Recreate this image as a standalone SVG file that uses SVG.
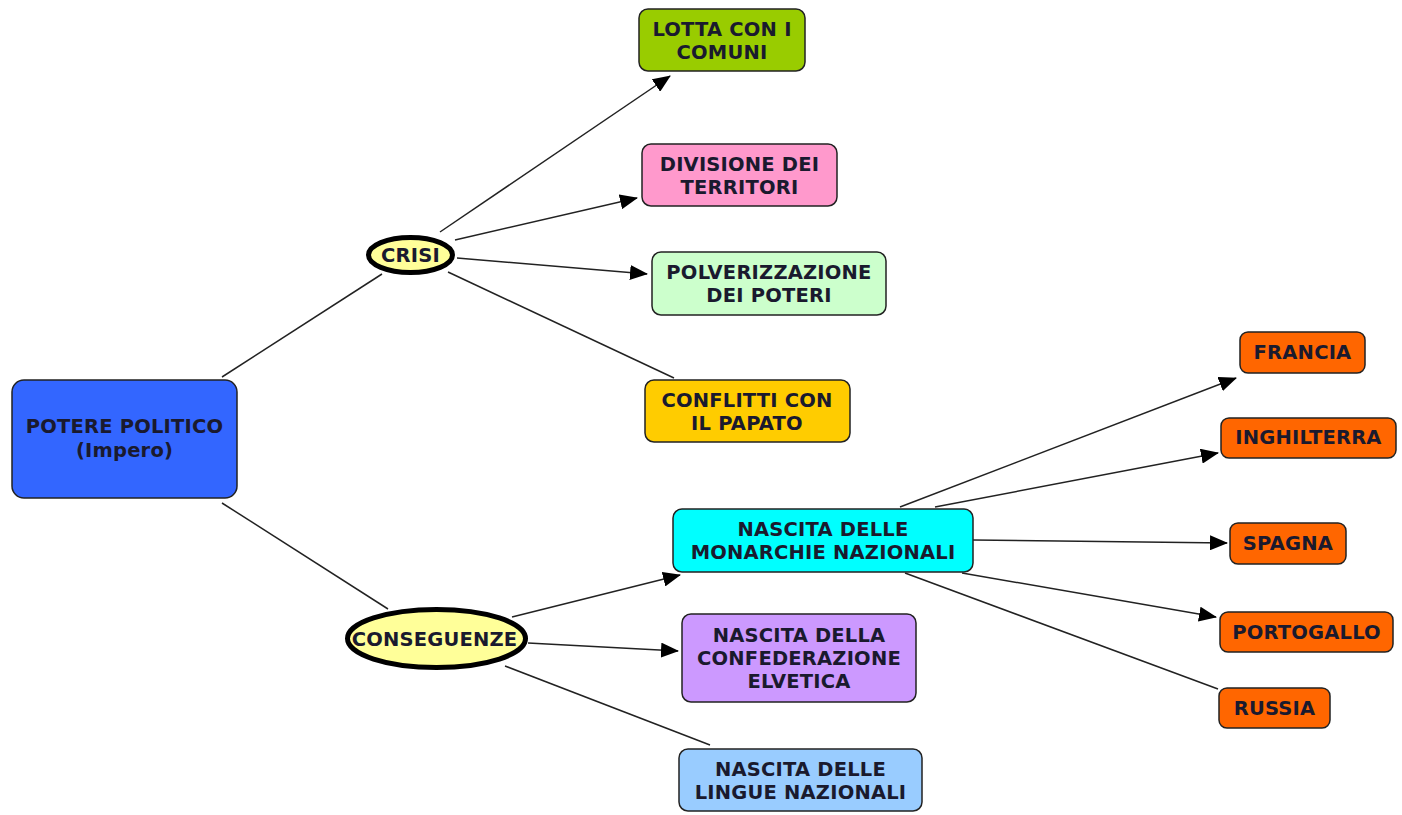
<svg xmlns="http://www.w3.org/2000/svg" width="1402" height="815" viewBox="0 0 1402 815">
<defs>
<marker id="arr" markerWidth="18" markerHeight="15" refX="17" refY="7.5" orient="auto" markerUnits="userSpaceOnUse">
<path d="M0,0 L18,7.5 L0,15 Z" fill="#000"/>
</marker>
<style>
.box{stroke:#222;stroke-width:1.5}
.ell{fill:#ffff99;stroke:#000;stroke-width:5}
text{font-family:"DejaVu Sans",Verdana,sans-serif;font-weight:bold;font-size:19.5px;letter-spacing:0.2px;fill:#1a1a2e;text-anchor:middle}
.c{stroke:#222;stroke-width:1.5;fill:none}
.a{marker-end:url(#arr)}
</style>
</defs>
<rect width="1402" height="815" fill="#fff"/>
<g id="connectors">
<line class="c" x1="222" y1="377" x2="382" y2="274"/>
<line class="c" x1="222" y1="503" x2="388" y2="609"/>
<line class="c a" x1="440" y1="232" x2="670" y2="76"/>
<line class="c a" x1="455" y1="240" x2="637" y2="198"/>
<line class="c a" x1="457" y1="258" x2="647" y2="274"/>
<line class="c" x1="448" y1="272" x2="674" y2="378"/>
<line class="c a" x1="512" y1="617" x2="680" y2="575"/>
<line class="c a" x1="528" y1="643" x2="678" y2="651"/>
<line class="c" x1="505" y1="666" x2="710" y2="745"/>
<line class="c a" x1="900" y1="507" x2="1236" y2="378"/>
<line class="c a" x1="935" y1="507" x2="1218" y2="453"/>
<line class="c a" x1="973" y1="540" x2="1227" y2="543"/>
<line class="c a" x1="962" y1="573" x2="1216" y2="617"/>
<line class="c" x1="905" y1="573" x2="1218" y2="689"/>
</g>
<g id="potere">
<rect class="box" x="12" y="380" width="225" height="118" rx="12" fill="#3366ff"/>
<text x="124.5" y="433">POTERE POLITICO</text>
<text x="124.5" y="457">(Impero)</text>
</g>
<g id="crisi">
<ellipse class="ell" cx="410.5" cy="255" rx="42" ry="17.5"/>
<text x="410.5" y="262">CRISI</text>
</g>
<g id="conseguenze">
<ellipse class="ell" cx="436.5" cy="638.5" rx="89" ry="29"/>
<text x="434.5" y="646">CONSEGUENZE</text>
</g>
<g id="lotta">
<rect class="box" x="639" y="9" width="166" height="62" rx="9" fill="#99cc00"/>
<text x="722" y="36">LOTTA CON I</text>
<text x="722" y="59">COMUNI</text>
</g>
<g id="divisione">
<rect class="box" x="642" y="144" width="195" height="62" rx="9" fill="#ff99cc"/>
<text x="739.5" y="171">DIVISIONE DEI</text>
<text x="739.5" y="194">TERRITORI</text>
</g>
<g id="polverizzazione">
<rect class="box" x="652" y="252" width="234" height="63" rx="9" fill="#ccffcc"/>
<text x="769" y="279">POLVERIZZAZIONE</text>
<text x="769" y="302">DEI POTERI</text>
</g>
<g id="conflitti">
<rect class="box" x="645" y="380" width="205" height="62" rx="9" fill="#ffcc00"/>
<text x="747" y="407">CONFLITTI CON</text>
<text x="747" y="430">IL PAPATO</text>
</g>
<g id="monarchie">
<rect class="box" x="673" y="509" width="300" height="63" rx="9" fill="#00ffff"/>
<text x="823" y="536">NASCITA DELLE</text>
<text x="823" y="559">MONARCHIE NAZIONALI</text>
</g>
<g id="confederazione">
<rect class="box" x="682" y="614" width="234" height="88" rx="9" fill="#cc99ff"/>
<text x="799" y="642">NASCITA DELLA</text>
<text x="799" y="665">CONFEDERAZIONE</text>
<text x="799" y="688">ELVETICA</text>
</g>
<g id="lingue">
<rect class="box" x="679" y="749" width="243" height="62" rx="9" fill="#99ccff"/>
<text x="800.5" y="776">NASCITA DELLE</text>
<text x="800.5" y="799">LINGUE NAZIONALI</text>
</g>
<g id="francia">
<rect class="box" x="1240" y="332" width="125" height="41" rx="8" fill="#ff6600"/>
<text x="1302.5" y="359">FRANCIA</text>
</g>
<g id="inghilterra">
<rect class="box" x="1221" y="418" width="175" height="40" rx="8" fill="#ff6600"/>
<text x="1308.5" y="444">INGHILTERRA</text>
</g>
<g id="spagna">
<rect class="box" x="1230" y="523" width="116" height="41" rx="8" fill="#ff6600"/>
<text x="1288" y="550">SPAGNA</text>
</g>
<g id="portogallo">
<rect class="box" x="1220" y="612" width="173" height="40" rx="8" fill="#ff6600"/>
<text x="1306.5" y="639">PORTOGALLO</text>
</g>
<g id="russia">
<rect class="box" x="1219" y="688" width="111" height="40" rx="8" fill="#ff6600"/>
<text x="1274.5" y="715">RUSSIA</text>
</g>
</svg>
